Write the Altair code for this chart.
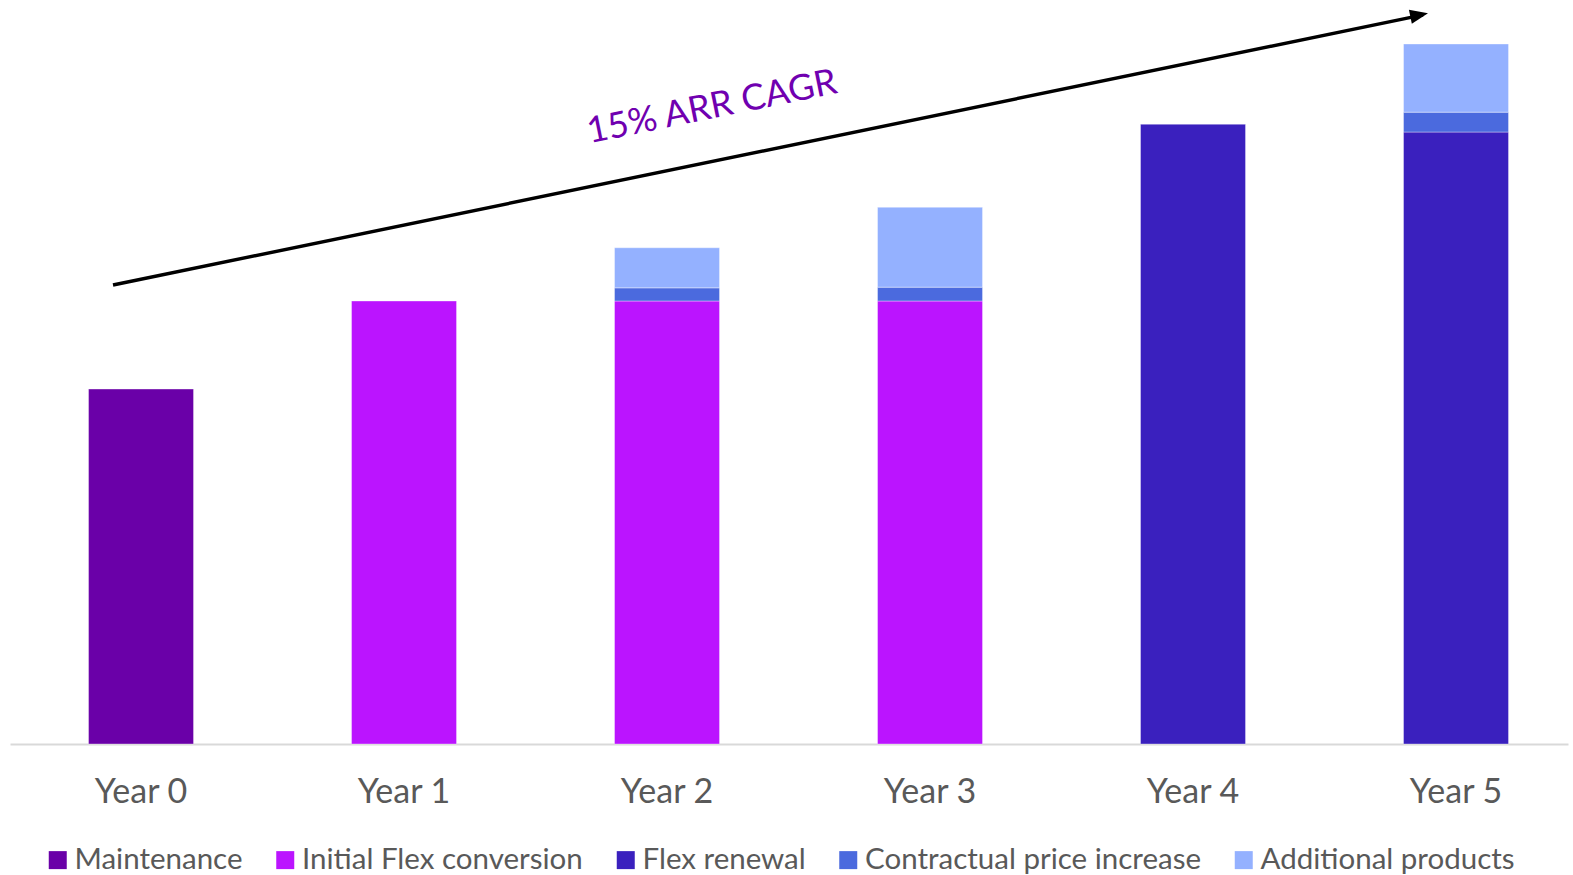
import altair as alt
import pandas as pd

years = ["Year 0", "Year 1", "Year 2", "Year 3", "Year 4", "Year 5"]
components = ["Maintenance", "Initial Flex conversion", "Flex renewal",
              "Contractual price increase", "Additional products"]
colors = ["#6A00A8", "#BB14FF", "#3A20BE", "#4B6ADE", "#94B1FF"]

maintenance = [100.0, 0, 0, 0, 0, 0]
initial_flex = [0, 124.8, 124.8, 124.8, 0, 0]
flex_renewal = [0, 0, 0, 0, 174.6, 172.4]
contractual = [0, 0, 3.7, 3.9, 0, 5.6]
additional = [0, 0, 11.3, 22.5, 0, 19.2]

series = [maintenance, initial_flex, flex_renewal, contractual, additional]
rows = []
for ci, (name, vals) in enumerate(zip(components, series)):
    for y, v in zip(years, vals):
        if v > 0:
            rows.append({"year": y, "component": name, "value": v, "order": ci})
df = pd.DataFrame(rows)

# annotation (arrow) endpoints: y in data units, x in pixels
arrow_y = [129.3, 205.4]
arrow_x = [103, 1413]
label_text = "15% ARR CAGR"
label_y = 179.4
label_x = 702

FONT = "Lato"
ymax = 209.6

xscale = alt.Scale(domain=years, paddingInner=0.6008, paddingOuter=0.2624, align=0.569)
yscale = alt.Scale(domain=[0, ymax], nice=False)

bars = alt.Chart(df).mark_bar(stroke="white", strokeWidth=0.6, strokeOpacity=0.6).encode(
    x=alt.X("year:N", scale=xscale, sort=years,
            axis=alt.Axis(title=None, labelAngle=0, labelFontSize=34, labelColor="#595959",
                          labelFont=FONT, ticks=False, tickSize=0, labelPadding=31,
                          domainColor="#D9D9D9", domainWidth=2, grid=False)),
    y=alt.Y("value:Q", stack="zero", scale=yscale, axis=None),
    color=alt.Color("component:N", sort=components,
                    scale=alt.Scale(domain=components, range=colors),
                    legend=alt.Legend(title=None, orient="none", direction="horizontal",
                                      legendX=33, legendY=845, symbolType="square",
                                      symbolSize=324, symbolStrokeWidth=0,
                                      labelFontSize=29.5, labelFont=FONT, labelColor="#595959",
                                      labelOffset=2, columnPadding=27.5, labelLimit=0)),
    order=alt.Order("order:Q"),
)

line_df = pd.DataFrame({"y1": [arrow_y[0]], "y2": [arrow_y[1]]})
arrow_line = alt.Chart(line_df).mark_rule(color="black", strokeWidth=3.5).encode(
    x=alt.value(arrow_x[0]), x2=alt.value(arrow_x[1]),
    y=alt.Y("y1:Q", scale=yscale), y2="y2:Q",
)
head_df = pd.DataFrame({"y": [arrow_y[1] + 0.5]})
arrow_head = alt.Chart(head_df).mark_point(
    shape="M0,0 L-2,-0.8 L-2,0.8 Z", filled=True, color="black", opacity=1,
    size=324, angle=348.3, strokeWidth=0,
).encode(x=alt.value(arrow_x[1] + 5), y=alt.Y("y:Q", scale=yscale))

text_df = pd.DataFrame({"y": [label_y], "t": [label_text]})
label = alt.Chart(text_df).mark_text(
    font=FONT, fontSize=36, color="#7000B0", angle=348.5, align="center", baseline="middle"
).encode(x=alt.value(label_x), y=alt.Y("y:Q", scale=yscale), text="t:N")

chart = alt.layer(bars, arrow_line, arrow_head, label).properties(
    width=1558, height=744,
    background="white",
    autosize=alt.AutoSizeParams(type="none"),
    padding={"left": 10, "right": 5, "top": 0, "bottom": 131},
).configure_view(stroke=None, strokeWidth=0)

chart.save("out.html", embed_options={"renderer": "svg", "actions": False})
